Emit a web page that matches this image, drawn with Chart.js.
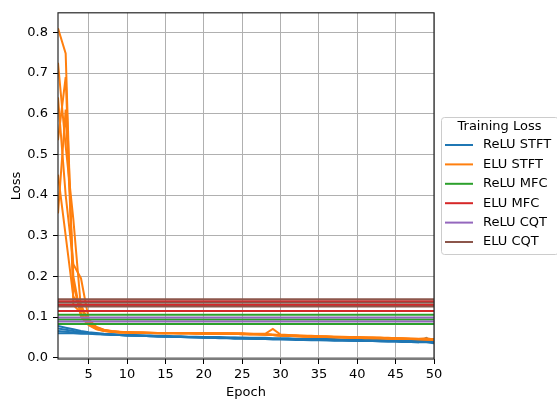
<!DOCTYPE html>
<html>
<head>
<meta charset="utf-8">
<script src="https://cdn.jsdelivr.net/npm/chart.js@4.4.1/dist/chart.umd.min.js"></script>
<style>
  html, body { margin: 0; padding: 0; background: #fff; }
  canvas { display: block; }
</style>
</head>
<body>
<canvas id="chart" width="557" height="400"></canvas>
<script>
const epochs = Array.from({ length: 50 }, (_, i) => i + 1);
const xTicks = [5, 10, 15, 20, 25, 30, 35, 40, 45, 50];
const yTicks = [0.0, 0.1, 0.2, 0.3, 0.4, 0.5, 0.6, 0.7, 0.8];

const seriesNames = ['ReLU STFT', 'ELU STFT', 'ReLU MFC', 'ELU MFC', 'ReLU CQT', 'ELU CQT'];
const seriesColors = ['#1f77b4', '#ff7f0e', '#2ca02c', '#d62728', '#9467bd', '#8c564b'];

// one row per training run, one value per epoch
const reluStft = [
  [0.078, 0.074, 0.070, 0.066, 0.063, 0.061, 0.059, 0.058, 0.057, 0.056,
   0.056, 0.055, 0.055, 0.054, 0.054, 0.053, 0.053, 0.052, 0.052, 0.051,
   0.051, 0.051, 0.050, 0.050, 0.050, 0.049, 0.049, 0.049, 0.048, 0.048,
   0.048, 0.047, 0.047, 0.047, 0.046, 0.046, 0.046, 0.045, 0.045, 0.045,
   0.044, 0.044, 0.044, 0.043, 0.043, 0.043, 0.042, 0.042, 0.042, 0.041],
  [0.072, 0.069, 0.066, 0.063, 0.061, 0.059, 0.058, 0.057, 0.056, 0.055,
   0.055, 0.054, 0.054, 0.053, 0.053, 0.052, 0.052, 0.051, 0.051, 0.050,
   0.050, 0.049, 0.049, 0.049, 0.048, 0.048, 0.047, 0.047, 0.047, 0.046,
   0.046, 0.046, 0.045, 0.045, 0.045, 0.044, 0.044, 0.044, 0.043, 0.043,
   0.043, 0.042, 0.042, 0.042, 0.041, 0.041, 0.040, 0.040, 0.040, 0.039],
  [0.066, 0.064, 0.062, 0.061, 0.060, 0.059, 0.058, 0.057, 0.056, 0.055,
   0.054, 0.054, 0.053, 0.052, 0.052, 0.051, 0.051, 0.050, 0.050, 0.049,
   0.049, 0.048, 0.048, 0.047, 0.047, 0.047, 0.046, 0.046, 0.045, 0.045,
   0.045, 0.044, 0.044, 0.043, 0.043, 0.043, 0.042, 0.042, 0.042, 0.041,
   0.041, 0.041, 0.040, 0.040, 0.040, 0.039, 0.039, 0.038, 0.049, 0.037],
  [0.060, 0.060, 0.060, 0.059, 0.059, 0.058, 0.057, 0.056, 0.056, 0.055,
   0.054, 0.054, 0.053, 0.053, 0.052, 0.052, 0.051, 0.051, 0.050, 0.050,
   0.049, 0.049, 0.049, 0.048, 0.048, 0.047, 0.047, 0.046, 0.046, 0.046,
   0.045, 0.045, 0.044, 0.044, 0.044, 0.043, 0.043, 0.043, 0.042, 0.042,
   0.041, 0.041, 0.041, 0.040, 0.040, 0.039, 0.039, 0.038, 0.038, 0.036]
];

const eluStft = [
  [0.810, 0.748, 0.130, 0.110, 0.086, 0.073, 0.067, 0.064, 0.063, 0.062,
   0.062, 0.061, 0.061, 0.061, 0.060, 0.060, 0.060, 0.060, 0.060, 0.060,
   0.059, 0.059, 0.059, 0.059, 0.059, 0.058, 0.058, 0.057, 0.056, 0.055,
   0.054, 0.054, 0.053, 0.053, 0.052, 0.052, 0.051, 0.051, 0.050, 0.050,
   0.049, 0.049, 0.049, 0.048, 0.048, 0.047, 0.047, 0.046, 0.046, 0.045],
  [0.725, 0.520, 0.340, 0.120, 0.092, 0.075, 0.068, 0.065, 0.064, 0.063,
   0.062, 0.062, 0.062, 0.061, 0.061, 0.061, 0.061, 0.061, 0.060, 0.060,
   0.060, 0.060, 0.060, 0.060, 0.060, 0.059, 0.059, 0.059, 0.071, 0.057,
   0.056, 0.055, 0.054, 0.054, 0.053, 0.053, 0.052, 0.052, 0.051, 0.051,
   0.050, 0.050, 0.049, 0.049, 0.048, 0.048, 0.047, 0.047, 0.046, 0.046],
  [0.640, 0.400, 0.230, 0.195, 0.095, 0.076, 0.069, 0.066, 0.064, 0.063,
   0.062, 0.062, 0.061, 0.061, 0.061, 0.061, 0.060, 0.060, 0.060, 0.060,
   0.060, 0.059, 0.059, 0.059, 0.059, 0.058, 0.058, 0.057, 0.056, 0.055,
   0.055, 0.054, 0.053, 0.053, 0.052, 0.052, 0.051, 0.051, 0.050, 0.050,
   0.049, 0.049, 0.048, 0.048, 0.047, 0.047, 0.046, 0.046, 0.045, 0.044],
  [0.535, 0.690, 0.180, 0.105, 0.082, 0.071, 0.066, 0.064, 0.063, 0.062,
   0.061, 0.061, 0.061, 0.060, 0.060, 0.060, 0.060, 0.060, 0.060, 0.059,
   0.059, 0.059, 0.059, 0.059, 0.058, 0.058, 0.058, 0.057, 0.056, 0.055,
   0.054, 0.053, 0.053, 0.052, 0.052, 0.051, 0.051, 0.050, 0.050, 0.049,
   0.049, 0.048, 0.048, 0.048, 0.047, 0.047, 0.046, 0.046, 0.045, 0.045],
  [0.450, 0.300, 0.150, 0.130, 0.088, 0.074, 0.068, 0.065, 0.063, 0.063,
   0.062, 0.062, 0.061, 0.061, 0.061, 0.061, 0.060, 0.060, 0.060, 0.060,
   0.060, 0.060, 0.060, 0.059, 0.059, 0.059, 0.058, 0.058, 0.057, 0.056,
   0.055, 0.055, 0.054, 0.053, 0.053, 0.052, 0.052, 0.051, 0.051, 0.050,
   0.050, 0.049, 0.049, 0.048, 0.048, 0.047, 0.047, 0.046, 0.048, 0.045],
  [0.355, 0.610, 0.200, 0.100, 0.080, 0.070, 0.066, 0.064, 0.062, 0.062,
   0.061, 0.061, 0.061, 0.060, 0.060, 0.060, 0.060, 0.060, 0.059, 0.059,
   0.059, 0.059, 0.059, 0.059, 0.058, 0.058, 0.058, 0.057, 0.056, 0.055,
   0.054, 0.053, 0.052, 0.052, 0.051, 0.051, 0.050, 0.050, 0.049, 0.049,
   0.048, 0.048, 0.048, 0.047, 0.047, 0.046, 0.046, 0.045, 0.045, 0.044]
];

// these runs stay flat over all epochs, one loss per run
const reluMfc = [0.106, 0.094, 0.083];
const eluMfc = [0.139, 0.130, 0.115];
const reluCqt = [0.099, 0.089];
const eluCqt = [0.144, 0.135, 0.126];

const flat = vals => vals.map(v => epochs.map(() => v));
const allRuns = [reluStft, eluStft, flat(reluMfc), flat(eluMfc), flat(reluCqt), flat(eluCqt)];

const datasets = [];
allRuns.forEach((runs, s) => {
  runs.forEach(run => {
    datasets.push({
      label: seriesNames[s],
      data: run.map((y, i) => ({ x: epochs[i], y: y })),
      borderColor: seriesColors[s],
      backgroundColor: seriesColors[s],
      borderWidth: 2,
      pointRadius: 0,
      tension: 0,
      fill: false
    });
  });
});
// later series sit on top, like the original plot order
datasets.forEach((d, i) => { d.order = datasets.length - i; });

const frame = {
  id: 'frame',
  afterDatasetsDraw(chart) {
    const { ctx, chartArea: a } = chart;
    ctx.save();
    ctx.strokeStyle = '#262626';
    ctx.lineWidth = 1.2;
    ctx.strokeRect(a.left, a.top, a.right - a.left, a.bottom - a.top);
    ctx.restore();
  }
};

const lossLegend = {
  id: 'lossLegend',
  afterDraw(chart) {
    const ctx = chart.ctx;
    const x0 = chart.chartArea.right + 7;
    const y0 = 117;
    const w = 117, h = 137;
    ctx.save();
    ctx.beginPath();
    ctx.roundRect(x0 + 0.5, y0 + 0.5, w, h, 3);
    ctx.fillStyle = 'rgba(255,255,255,0.8)';
    ctx.fill();
    ctx.strokeStyle = '#cccccc';
    ctx.lineWidth = 1;
    ctx.stroke();

    ctx.font = '13px "DejaVu Sans"';
    ctx.fillStyle = '#000';
    ctx.textBaseline = 'middle';
    ctx.textAlign = 'center';
    ctx.fillText('Training Loss', x0 + w / 2, y0 + 10);

    ctx.textAlign = 'left';
    seriesNames.forEach((name, i) => {
      const y = y0 + 28 + i * 19.4;
      ctx.strokeStyle = seriesColors[i];
      ctx.lineWidth = 2;
      ctx.beginPath();
      ctx.moveTo(x0 + 4, y);
      ctx.lineTo(x0 + 32, y);
      ctx.stroke();
      ctx.fillText(name, x0 + 42, y);
    });
    ctx.restore();
  }
};

Chart.defaults.font.family = 'DejaVu Sans';
Chart.defaults.font.size = 13;
Chart.defaults.color = '#000';

new Chart(document.getElementById('chart'), {
  type: 'line',
  data: { datasets: datasets },
  options: {
    responsive: false,
    animation: false,
    layout: { padding: { left: 0, right: 123, top: 11, bottom: 0 } },
    plugins: {
      legend: { display: false },
      tooltip: { enabled: false }
    },
    scales: {
      x: {
        type: 'linear',
        min: 1,
        max: 50,
        afterBuildTicks: s => { s.ticks = xTicks.map(v => ({ value: v })); },
        afterFit: s => { s.height = 41; },
        ticks: { padding: 3, maxRotation: 0, callback: v => String(v) },
        grid: { color: '#b0b0b0', lineWidth: 1, tickColor: '#000', tickLength: 5 },
        border: { display: false },
        title: { display: true, text: 'Epoch', padding: { top: 0, bottom: 0 } }
      },
      y: {
        type: 'linear',
        min: -0.003,
        max: 0.848,
        afterBuildTicks: s => { s.ticks = yTicks.map(v => ({ value: v })); },
        afterFit: s => { s.width = 58; },
        ticks: { padding: 5, callback: v => v.toFixed(1) },
        grid: { color: '#b0b0b0', lineWidth: 1, tickColor: '#000', tickLength: 5 },
        border: { display: false },
        title: { display: true, text: 'Loss', padding: { top: 9, bottom: 0 } }
      }
    }
  },
  plugins: [frame, lossLegend]
});
</script>
</body>
</html>
